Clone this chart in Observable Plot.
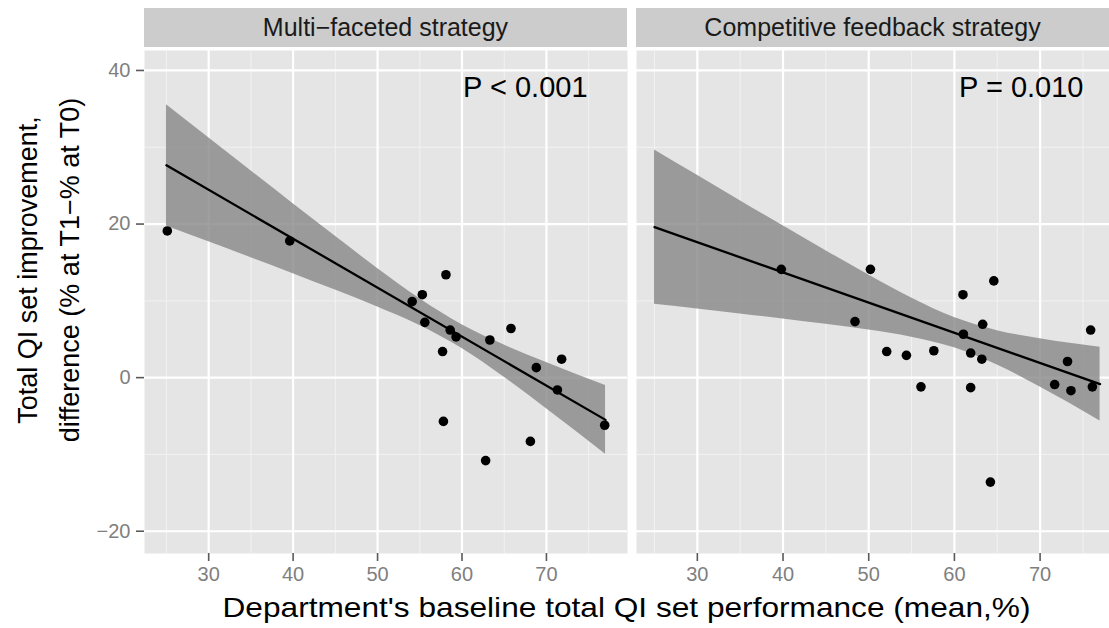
<!DOCTYPE html>
<html>
<head>
<meta charset="utf-8">
<script src="https://cdn.jsdelivr.net/npm/d3@7"></script>
<script src="https://cdn.jsdelivr.net/npm/@observablehq/plot@0.6"></script>
<style>
  html, body { margin: 0; padding: 0; background: #fff; overflow: hidden; }
  body { width: 1109px; height: 628px; position: relative; font-family: Arial, "Liberation Sans", sans-serif; }
  .strip { position: absolute; top: 8px; height: 39px; background: #CCCCCC; color: #1A1A1A;
           font-size: 25px; line-height: 39px; text-align: center; white-space: nowrap; }
  .ytitle { position: absolute; width: 500px; height: 84px; left: -201px; top: 228px;
            transform: rotate(-90deg); transform-origin: center; text-align: center;
            font-size: 27px; line-height: 42px; color: #000; white-space: nowrap; }
  .xtitle { position: absolute; left: 144px; width: 965px; top: 591px; height: 34px; line-height: 34px;
            text-align: center; font-size: 28px; color: #000; white-space: nowrap; }
  .xtitle span { display: inline-block; transform: scaleX(1.13); }
</style>
</head>
<body>
<div id="root"></div>
<script>
// ---- data ----
const strategies = ["Multi\u2212faceted strategy", "Competitive feedback strategy"];
const pLabels = ["P < 0.001", "P = 0.010"];
const pX = [67.5, 67.8];
const pY = [37.7, 37.7];

// Multi-faceted strategy: department baseline (x) and improvement (y)
const multiX = [25.1, 39.6, 58.1, 55.3, 54.1, 55.6, 58.6, 59.3, 65.8, 63.3, 57.7, 71.8, 68.8, 71.3, 76.9, 57.8, 68.1, 62.8];
const multiY = [19.1, 17.8, 13.4, 10.8, 9.9, 7.2, 6.2, 5.3, 6.4, 4.9, 3.4, 2.4, 1.3, -1.6, -6.2, -5.7, -8.3, -10.8];

// Competitive feedback strategy
const compX = [39.8, 50.2, 64.6, 61.0, 48.4, 63.3, 75.9, 61.05, 52.1, 54.4, 57.6, 61.9, 63.2, 73.2, 56.1, 61.9, 71.7, 73.6, 76.1, 64.2];
const compY = [14.1, 14.1, 12.6, 10.8, 7.3, 6.95, 6.2, 5.65, 3.4, 2.9, 3.5, 3.2, 2.4, 2.1, -1.2, -1.3, -0.9, -1.7, -1.2, -13.6];

// fitted lines (end points)
const fitX = [25, 77];
const multiFitY = [27.65, -5.5];
const compFitY = [19.6, -0.84];

// confidence bands (edges)
const bandX = [25, 30, 35, 40, 45, 50, 55, 60, 65, 70, 77];
const multiBandLow  = [19.75, 17.69, 15.62, 13.53, 11.40, 9.20, 6.79, 3.79, 0.05, -4.05, -9.97];
const multiBandHigh = [35.55, 31.23, 26.94, 22.65, 18.40, 14.22, 10.27, 6.89, 4.25, 1.97, -1.03];
const compBandLow   = [9.55, 8.93, 8.29, 7.64, 6.94, 6.19, 5.26, 3.88, 1.64, -1.23, -5.64];
const compBandHigh  = [29.65, 26.35, 23.05, 19.78, 16.54, 13.37, 10.36, 7.82, 6.12, 5.07, 3.96];

// ticks
const xTicks = [30, 40, 50, 60, 70];
const xMinor = [25, 35, 45, 55, 65, 75];
const yTicks = [-20, 0, 20, 40];
const yMinor = [-10, 10, 30];

const xTitle = "Department's baseline total QI set performance (mean,%)";
const yTitle = ["Total QI set improvement,", "difference (% at T1\u2212% at T0)"];

// ---- build ----
const root = document.getElementById("root");
const panels = [
  {name: strategies[0], xs: multiX, ys: multiY, fit: multiFitY, lo: multiBandLow, hi: multiBandHigh,
   p: pLabels[0], px: pX[0], py: pY[0], left: 0, width: 627, marginLeft: 144, xDomain: [22.4, 79.6], yAxis: true},
  {name: strategies[1], xs: compX, ys: compY, fit: compFitY, lo: compBandLow, hi: compBandHigh,
   p: pLabels[1], px: pX[1], py: pY[1], left: 636, width: 473, marginLeft: 0, xDomain: [22.9, 78.1], yAxis: false}
];

for (const pnl of panels) {
  const strip = document.createElement("div");
  strip.className = "strip";
  strip.style.left = (pnl.left + pnl.marginLeft) + "px";
  strip.style.width = (pnl.width - pnl.marginLeft) + "px";
  strip.textContent = pnl.name;
  root.appendChild(strip);

  const pts = pnl.xs.map((x, i) => ({x, y: pnl.ys[i]}));
  const fit = fitX.map((x, i) => ({x, y: pnl.fit[i]}));
  const band = bandX.map((x, i) => ({x, lo: pnl.lo[i], hi: pnl.hi[i]}));

  const marks = [
    Plot.frame({fill: "#E5E5E5", stroke: null}),
    Plot.gridX(xMinor, {stroke: "#F2F2F2", strokeOpacity: 1, strokeWidth: 1}),
    Plot.gridY(yMinor, {stroke: "#F2F2F2", strokeOpacity: 1, strokeWidth: 1}),
    Plot.gridX(xTicks, {stroke: "#FFFFFF", strokeOpacity: 1, strokeWidth: 2.2}),
    Plot.gridY(yTicks, {stroke: "#FFFFFF", strokeOpacity: 1, strokeWidth: 2.2}),
    Plot.areaY(band, {x: "x", y1: "lo", y2: "hi", fill: "#878787", fillOpacity: 0.8, curve: "monotone-x"}),
    Plot.lineY(fit, {x: "x", y: "y", stroke: "#000", strokeWidth: 2.3}),
    Plot.dot(pts, {x: "x", y: "y", r: 4.8, fill: "#000", stroke: null}),
    Plot.text([pnl.p], {x: () => pnl.px, y: () => pnl.py, text: d => d, fontSize: 29, fill: "#000"}),
    Plot.axisX(xTicks, {tickSize: 8, tickPadding: 5, stroke: "#5A5A5A", strokeWidth: 1.6, fill: "#7F7F7F", fontSize: 20, label: null})
  ];
  if (pnl.yAxis) {
    marks.push(Plot.axisY(yTicks, {tickSize: 8, tickPadding: 6, stroke: "#5A5A5A", strokeWidth: 1.6, fill: "#7F7F7F", fontSize: 20, label: null}));
  }

  const chart = Plot.plot({
    width: pnl.width,
    height: 590,
    marginLeft: pnl.marginLeft,
    marginRight: 0,
    marginTop: 50,
    marginBottom: 37,
    style: {fontFamily: "Arial, 'Liberation Sans', sans-serif", background: "transparent", overflow: "visible"},
    x: {domain: pnl.xDomain},
    y: pnl.yAxis ? {domain: [-22.9, 42.6]} : {domain: [-22.9, 42.6], axis: null},
    marks
  });
  chart.style.position = "absolute";
  chart.style.left = pnl.left + "px";
  chart.style.top = "0px";
  root.appendChild(chart);
}

const yt = document.createElement("div");
yt.className = "ytitle";
yt.innerHTML = yTitle.join("<br>");
root.appendChild(yt);

const xt = document.createElement("div");
xt.className = "xtitle";
const sp = document.createElement("span");
sp.textContent = xTitle;
xt.appendChild(sp);
root.appendChild(xt);
</script>
</body>
</html>
